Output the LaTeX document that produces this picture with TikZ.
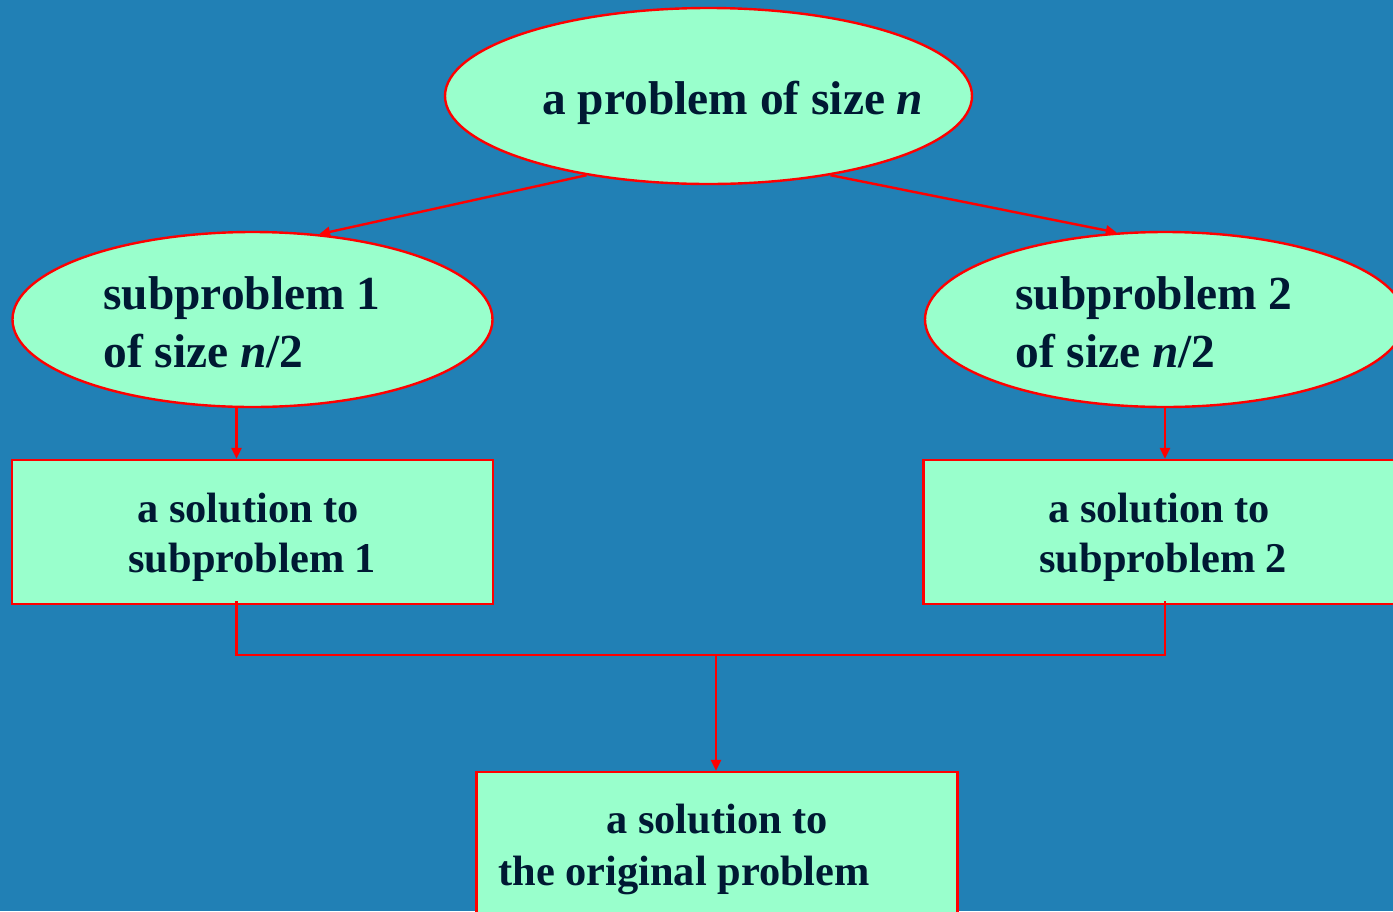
\documentclass[tikz,border=0pt]{standalone}
\usepackage{fontspec}
\setmainfont{Liberation Serif}
\usetikzlibrary{shapes.geometric,arrows.meta}
\definecolor{bg}{RGB}{33,128,181}
\definecolor{boxfill}{RGB}{153,255,204}
\definecolor{ink}{RGB}{0,25,51}
\begin{document}
\begin{tikzpicture}[x=0.5pt,y=-0.5pt,
  ell/.style={ellipse, draw=red, fill=boxfill, line width=1.2pt, inner sep=0pt},
  box/.style={rectangle, draw=red, fill=boxfill, line width=1.2pt, inner sep=0pt, minimum width=240.5pt, minimum height=72pt},
  txt/.style={inner sep=0pt, anchor=base west, text=ink, font=\fontsize{23.7}{28}\selectfont\bfseries},
  stxt/.style={txt, font=\fontsize{21.2}{25}\selectfont\bfseries},
  arr/.style={draw=red, line width=1.2pt, -{Triangle[length=5.5pt,width=5pt]}},
  link/.style={draw=red, line width=1.2pt}]
\useasboundingbox (0,0) rectangle (1393,911);
\fill[bg] (0,0) rectangle (1393,911);
\clip (0,0) rectangle (1393,911);
% shapes
\node[ell, minimum width=263.5pt, minimum height=88pt] (top) at (708.5,96) {};
\node[ell, minimum width=240pt, minimum height=87.5pt] (sub1) at (252.5,319.5) {};
\node[ell, minimum width=240pt, minimum height=87.5pt] (sub2) at (1165,319.5) {};
\node[box] (sol1) at (252.5,532) {};
\node[box] (sol2) at (1164,532) {};
\node[box] (final) at (717,844) {};
% texts
\node[txt] (t0) at (542,114) {a problem of size \textit{n}};
\node[txt] (t1a) at (103,309) {subproblem 1};
\node[txt] (t1b) at (103,367) {of size \textit{n}/2};
\node[txt] (t2a) at (1015,309) {subproblem 2};
\node[txt] (t2b) at (1015,367) {of size \textit{n}/2};
\node[stxt] (s1a) at (137,522) {a solution to};
\node[stxt] (s1b) at (128,572) {subproblem 1};
\node[stxt] (s2a) at (1048,522) {a solution to};
\node[stxt] (s2b) at (1039,572) {subproblem 2};
\node[stxt] (fa) at (606,833) {a solution to};
\node[stxt] (fb) at (498,885) {the original problem};
% connectors
\draw[arr] (top.213) -- (sub1.52);
\draw[arr] (top.-33) -- (sub2.119);
\draw[arr] ([xshift=-8pt]sub1.south) -- ([xshift=-8pt]sol1.north);
\draw[arr] (sub2.south) -- (sub2.south |- sol2.north);
\coordinate (join) at (716,655);
\draw[link] ([xshift=-8pt,yshift=2pt]sol1.south) |- (join) -| ([yshift=2pt]sol2.south -| sub2.south);
\draw[arr] (join) -- (join |- final.north);
\end{tikzpicture}
\end{document}
